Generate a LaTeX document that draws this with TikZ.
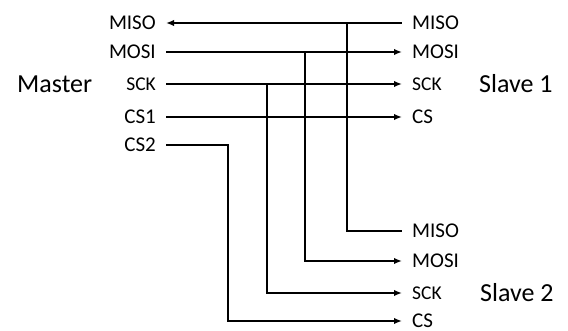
\documentclass[tikz,border=0pt]{standalone}
\usepackage{fontspec}
\setmainfont{Carlito}
\usepackage{tikz}
\usetikzlibrary{arrows.meta}
\newcommand{\sck}{{\fontsize{19.5}{23}\selectfont SCK}}
\tikzset{sig/.style = {line width=1.6pt, > = {Latex[length=8pt,width=6.5pt]}}}
\tikzset{pin/.style = {inner ysep=0pt, inner xsep=10pt, text height=13pt, text depth=0pt, font=\fontsize{21}{25}\selectfont}}
\tikzset{dev/.style = {inner sep=0pt, font=\fontsize{26}{31}\selectfont}}

\begin{document}
\begin{tikzpicture}[x=1pt, y=-1pt]
            \useasboundingbox (0,0) rectangle (568,331);
            \node[dev, anchor=west] (master) at (17,84) {Master};
            \node[dev, anchor=west] (slave1) at (479,84) {Slave 1};
            \node[dev, anchor=west] (slave2) at (480,293) {Slave 2};
            \node[pin, anchor=east] (m-miso) at (166,23) {MISO};
            \node[pin, anchor=east] (m-mosi) at (166,52) {MOSI};
            \node[pin, anchor=east] (m-sck) at (166,84) {\sck};
            \node[pin, anchor=east] (m-cs1) at (166,117) {CS1};
            \node[pin, anchor=east] (m-cs2) at (166,145) {CS2};
            \node[pin, anchor=west] (s1-miso) at (402,23) {MISO};
            \node[pin, anchor=west] (s1-mosi) at (402,52) {MOSI};
            \node[pin, anchor=west] (s1-sck) at (402,84) {\sck};
            \node[pin, anchor=west] (s1-cs) at (402,117) {CS};
            \node[pin, anchor=west] (s2-miso) at (402,231) {MISO};
            \node[pin, anchor=west] (s2-mosi) at (402,261) {MOSI};
            \node[pin, anchor=west] (s2-sck) at (402,293) {\sck};
            \node[pin, anchor=west] (s2-cs) at (402,321) {CS};
            \coordinate (b-miso) at (347,23);
            \coordinate (b-mosi) at (305,52);
            \coordinate (b-sck) at (267,84);
            \coordinate (b-cs) at (228,145);
            \draw[sig, <-] (m-miso.east) -- (s1-miso.west);
            \draw[sig, ->] (m-mosi.east) -- (s1-mosi.west);
            \draw[sig, ->] (m-sck.east) -- (s1-sck.west);
            \draw[sig, ->] (m-cs1.east) -- (s1-cs.west);
            \draw[sig] (b-miso) |- (s2-miso.west);
            \draw[sig, ->] (b-mosi) |- (s2-mosi.west);
            \draw[sig, ->] (b-sck) |- (s2-sck.west);
            \draw[sig, ->] (m-cs2.east) -- (b-cs) |- (s2-cs.west);
        \end{tikzpicture}
\end{document}
